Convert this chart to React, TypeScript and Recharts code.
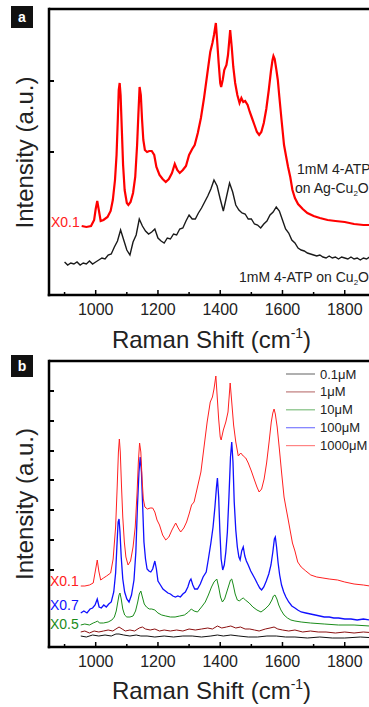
import { LineChart, Line, XAxis, YAxis, ReferenceLine, Legend } from 'recharts';

const FONT = '"Liberation Sans", Arial, sans-serif';

// shared axis ticks (Raman shift, cm-1)
const shiftTicks = [900, 1000, 1100, 1200, 1300, 1400, 1500, 1600, 1700, 1800, 1900, 2000];
const intensityTicksA = [143, 214];
const intensityTicksB = [77, 107, 137, 167, 196, 226, 256];

// ---- panel a : 1mM 4-ATP on Cu2O (black) ----
const shiftGridA = [
  900, 910, 920, 930, 940, 950, 960, 970, 980, 990, 1000,
  1010, 1020, 1030, 1040, 1050, 1060, 1070, 1080, 1090, 1100,
  1110, 1120, 1130, 1140, 1150, 1160, 1170, 1180, 1190, 1200,
  1210, 1220, 1230, 1240, 1250, 1260, 1270, 1280, 1290, 1300,
  1310, 1320, 1330, 1340, 1350, 1360, 1370, 1380, 1390, 1400,
  1410, 1420, 1430, 1440, 1450, 1460, 1470, 1480, 1490, 1500,
  1510, 1520, 1530, 1540, 1550, 1560, 1570, 1580, 1590, 1600,
  1610, 1620, 1630, 1640, 1650, 1660, 1670, 1680, 1690, 1700,
  1710, 1720, 1730, 1740, 1750, 1760, 1770, 1780, 1790, 1800,
  1810, 1820, 1830, 1840, 1850, 1860, 1870, 1880, 1890, 1900,
];
const cu2oA = [
  33, 30, 32, 31, 33, 30, 32, 31, 34, 31, 33,
  35, 37, 36, 40, 41, 48, 54, 65, 55, 45,
  40, 53, 60, 76, 69, 64, 61, 63, 66, 57,
  54, 52, 57, 56, 61, 60, 66, 67, 74, 80,
  76, 76, 82, 87, 93, 99, 106, 115, 109, 96,
  84, 98, 112, 103, 90, 85, 82, 81, 76, 76,
  71, 70, 67, 71, 74, 80, 83, 88, 84, 75,
  66, 62, 55, 52, 47, 45, 44, 42, 41, 40,
  39, 40, 38, 37, 39, 37, 38, 36, 38, 37,
  36, 38, 36, 37, 35, 37, 36, 38, 35, 36,
];

// ---- panel a : 1mM 4-ATP on Ag-Cu2O, x0.1 (red) ----
const agShiftA = [
  955, 970, 985, 995, 1000, 1005, 1010, 1016, 1025, 1038, 1048, 1055, 1062, 1067, 1071, 1074, 1077, 1080,
  1084, 1088, 1093, 1100, 1105, 1112, 1120, 1127, 1133, 1137, 1141, 1145, 1149, 1153, 1158, 1165, 1172,
  1180, 1188, 1195, 1205, 1215, 1225, 1235, 1245, 1254, 1262, 1270, 1280, 1290, 1300, 1310, 1318, 1328,
  1338, 1348, 1358, 1368, 1375, 1380, 1386, 1390, 1395, 1400, 1403, 1408, 1413, 1420, 1425, 1432, 1437,
  1442, 1448, 1455, 1462, 1468, 1474, 1480, 1488, 1495, 1502, 1510, 1518, 1525, 1532, 1540, 1548, 1556,
  1563, 1568, 1571, 1575, 1580, 1585, 1590, 1597, 1605, 1612, 1618, 1625, 1632, 1640, 1650, 1665, 1680,
  1700, 1720, 1745, 1770, 1800, 1830, 1860, 1880, 1900,
];
const agCu2oA = [
  69, 68, 69, 75, 86, 94, 85, 74, 75, 78, 84, 95, 115, 140, 175, 205, 212, 200,
  165, 130, 105, 92, 90, 93, 102, 118, 150, 180, 208, 200, 175, 155, 145, 143, 144,
  144, 140, 128, 120, 116, 113, 116, 122, 131, 125, 122, 125, 129, 140, 146, 150, 162,
  177, 197, 220, 243, 252, 260, 272, 255, 232, 212, 208, 215, 225, 230, 240, 265, 248,
  228, 212, 200, 192, 197, 193, 194, 190, 183, 177, 170, 163, 160, 163, 172, 186, 205,
  224, 235, 239, 236, 226, 215, 198, 175, 150, 138, 128, 118, 105, 97, 91, 86, 82,
  79, 77, 75, 74, 73, 71, 70, 70, 69,
];

// ---- panel b : concentration series ----
const concentrations = ['0.1\u03bcM', '1\u03bcM', '10\u03bcM', '100\u03bcM', '1000\u03bcM'];

const shift01 = [952, 970, 990, 1010, 1030, 1050, 1065, 1075, 1090, 1110, 1130, 1145, 1165, 1190, 1220, 1250, 1280, 1310, 1340, 1370, 1391, 1410, 1434, 1460, 1490, 1520, 1550, 1580, 1610, 1640, 1680, 1720, 1760, 1800, 1850, 1900];
const int01 = [11, 10, 12, 11, 12, 11, 13, 13, 12, 11, 12, 11, 11, 10, 11, 10, 11, 11, 10, 11, 12, 11, 12, 11, 10, 10, 11, 11, 10, 10, 9, 10, 9, 9, 10, 9];

const shift1 = [952, 965, 980, 995, 1010, 1025, 1040, 1055, 1065, 1075, 1085, 1095, 1110, 1125, 1140, 1150, 1160, 1175, 1190, 1205, 1220, 1240, 1260, 1280, 1300, 1320, 1340, 1360, 1375, 1391, 1405, 1420, 1434, 1450, 1465, 1480, 1495, 1510, 1525, 1545, 1560, 1573, 1585, 1600, 1620, 1640, 1665, 1690, 1715, 1740, 1770, 1800, 1830, 1860, 1900];
const int1 = [15, 16, 14, 16, 15, 16, 17, 16, 18, 20, 18, 16, 17, 16, 19, 20, 18, 17, 18, 16, 17, 16, 17, 16, 18, 17, 18, 19, 18, 21, 19, 20, 21, 19, 20, 18, 18, 17, 16, 18, 19, 20, 18, 17, 16, 17, 15, 16, 15, 15, 14, 15, 14, 15, 14];

const shift10 = [952, 965, 980, 992, 1000, 1006, 1012, 1025, 1040, 1052, 1060, 1066, 1071, 1075, 1078, 1082, 1087, 1093, 1100, 1110, 1120, 1128, 1135, 1140, 1145, 1150, 1156, 1163, 1172, 1180, 1190, 1200, 1212, 1225, 1240, 1255, 1270, 1285, 1298, 1307, 1316, 1327, 1340, 1352, 1362, 1372, 1380, 1389, 1395, 1401, 1407, 1414, 1421, 1428, 1433, 1437, 1442, 1448, 1455, 1462, 1468, 1474, 1481, 1493, 1505, 1518, 1531, 1544, 1557, 1566, 1571, 1576, 1582, 1588, 1595, 1605, 1616, 1627, 1640, 1660, 1690, 1734, 1780, 1830, 1880, 1900];
const int10 = [22, 23, 22, 24, 25, 26, 24, 24, 25, 27, 30, 36, 45, 52, 54, 48, 38, 32, 30, 30, 31, 36, 45, 53, 56, 50, 43, 40, 38, 38, 37, 34, 32, 31, 30, 30, 31, 32, 35, 38, 36, 35, 40, 45, 52, 60, 65, 68, 60, 50, 45, 48, 55, 62, 67, 68, 62, 53, 47, 46, 48, 49, 47, 44, 40, 37, 35, 38, 42, 47, 51, 52, 48, 42, 37, 32, 29, 27, 26, 25, 24, 23, 22, 22, 21, 21];

const shift100 = [952, 962, 972, 982, 990, 998, 1005, 1011, 1018, 1026, 1034, 1042, 1050, 1058, 1064, 1068, 1072, 1075, 1078, 1082, 1087, 1093, 1100, 1107, 1115, 1123, 1129, 1134, 1139, 1143, 1147, 1151, 1155, 1160, 1165, 1171, 1177, 1183, 1190, 1195, 1200, 1208, 1216, 1224, 1232, 1240, 1248, 1256, 1264, 1272, 1280, 1288, 1296, 1302, 1306, 1312, 1318, 1327, 1336, 1345, 1355, 1362, 1370, 1377, 1383, 1388, 1391, 1395, 1399, 1403, 1408, 1413, 1418, 1423, 1428, 1433, 1437, 1441, 1445, 1450, 1455, 1460, 1464, 1469, 1474, 1479, 1484, 1490, 1498, 1505, 1512, 1520, 1527, 1533, 1540, 1548, 1556, 1563, 1569, 1574, 1577, 1581, 1586, 1591, 1597, 1604, 1611, 1620, 1630, 1640, 1649, 1660, 1675, 1690, 1705, 1720, 1734, 1750, 1765, 1780, 1800, 1820, 1840, 1860, 1880, 1900];
const int100 = [34, 36, 34, 38, 39, 42, 48, 40, 39, 42, 40, 43, 45, 55, 74, 100, 125, 128, 115, 90, 68, 55, 48, 45, 52, 67, 95, 140, 175, 190, 175, 140, 105, 88, 78, 76, 75, 78, 86, 78, 66, 62, 58, 56, 54, 53, 51, 50, 51, 50, 53, 55, 60, 66, 68, 62, 58, 58, 63, 70, 75, 88, 104, 120, 140, 160, 169, 150, 115, 88, 77, 82, 95, 115, 150, 190, 205, 185, 145, 117, 100, 90, 87, 96, 100, 91, 86, 82, 76, 72, 68, 63, 59, 57, 60, 66, 73, 82, 95, 108, 110, 100, 84, 72, 62, 55, 50, 45, 41, 39, 37, 35, 34, 33, 32, 31, 30, 30, 29, 29, 28, 28, 27, 28, 27, 27];

const shift1000 = [952, 965, 980, 992, 1000, 1005, 1010, 1016, 1025, 1035, 1048, 1056, 1064, 1069, 1073, 1076, 1079, 1083, 1087, 1092, 1097, 1104, 1112, 1120, 1127, 1133, 1137, 1141, 1145, 1149, 1153, 1158, 1166, 1175, 1183, 1190, 1197, 1205, 1215, 1225, 1235, 1245, 1257, 1265, 1273, 1283, 1292, 1300, 1308, 1316, 1327, 1338, 1348, 1358, 1368, 1375, 1380, 1386, 1390, 1395, 1400, 1403, 1410, 1418, 1425, 1432, 1437, 1443, 1450, 1458, 1466, 1474, 1482, 1490, 1500, 1510, 1518, 1525, 1533, 1541, 1549, 1557, 1564, 1569, 1573, 1577, 1583, 1590, 1597, 1605, 1612, 1618, 1625, 1632, 1640, 1649, 1660, 1675, 1691, 1710, 1730, 1750, 1777, 1800, 1830, 1860, 1881, 1900];
const int1000 = [61, 61, 62, 64, 78, 87, 76, 67, 69, 71, 74, 88, 120, 160, 195, 208, 195, 160, 130, 105, 90, 82, 86, 100, 120, 155, 185, 204, 195, 168, 148, 140, 138, 139, 139, 135, 127, 122, 112, 107, 110, 117, 124, 119, 115, 119, 125, 133, 142, 145, 160, 175, 200, 225, 245, 250, 258, 271, 252, 228, 210, 207, 217, 225, 235, 264, 245, 222, 205, 191, 194, 191, 189, 184, 176, 167, 160, 155, 158, 168, 184, 205, 225, 234, 238, 233, 220, 198, 175, 150, 138, 128, 116, 104, 96, 85, 80, 76, 72, 70, 69, 68, 67, 65, 63, 62, 61, 61];

const colorsB = ['#111111', '#8b1010', '#1a8c1a', '#1010ff', '#ff2020'];

const toPoints = (xs: number[], ys: number[]) => xs.map((x, i) => ({ x, y: ys[i] }));

const panelBSeries = [
  toPoints(shift01, int01),
  toPoints(shift1, int1),
  toPoints(shift10, int10),
  toPoints(shift100, int100),
  toPoints(shift1000, int1000),
];

function ShiftTick({ x, y, payload }: any) {
  const major = payload.value % 200 === 0;
  return (
    <g>
      <line x1={x} x2={x} y1={y} y2={y - (major ? 5 : 3)} stroke="#000" strokeWidth={1.5} />
      {major && (
        <text x={x} y={y + 20} textAnchor="middle" fontSize={16} fill="#222" fontFamily={FONT}>
          {payload.value}
        </text>
      )}
    </g>
  );
}

function IntensityTick({ x, y }: any) {
  return <line x1={x} x2={x + 5} y1={y} y2={y} stroke="#000" strokeWidth={2} />;
}

function ConcLegend({ payload }: any) {
  const entries = concentrations
    .map((name) => (payload || []).find((p: any) => p.value === name))
    .filter(Boolean);
  return (
    <svg width={90} height={92} style={{ display: 'block' }}>
      {entries.map((p: any, i: number) => (
        <g key={p.value}>
          <line x1={0} x2={29} y1={9 + i * 17.9} y2={9 + i * 17.9} stroke={p.color} strokeWidth={1.2} opacity={0.55} />
          <text x={34} y={13.5 + i * 17.9} fontSize={13} fill="#222" fontFamily={FONT}>
            {p.value}
          </text>
        </g>
      ))}
    </svg>
  );
}

const axisLine = { stroke: '#000', strokeWidth: 2.5, strokeLinecap: 'square' as const };

function Sub2() {
  return (
    <>
      <tspan fontSize={8} dy={3}>2</tspan>
      <tspan dy={-3}>O</tspan>
    </>
  );
}

export default function App() {
  return (
    <div style={{ position: 'absolute', left: 0, top: 0, width: 369, height: 707, overflow: 'hidden', background: '#fff' }}>
      <div style={{ position: 'absolute', left: 0, top: 0 }}>
        <LineChart width={420} height={330} margin={{ top: 9, right: 13, bottom: 34, left: 48 }}>
          <XAxis dataKey="x" type="number" domain={[850, 2000]} ticks={shiftTicks} interval={0} allowDataOverflow
            height={1} tickSize={0} tickMargin={0} tickLine={false} axisLine={axisLine} tick={<ShiftTick />} />
          <YAxis type="number" domain={[0, 286]} ticks={intensityTicksA} interval={0} allowDataOverflow
            width={1} tickSize={0} tickMargin={0} tickLine={false} axisLine={axisLine} tick={<IntensityTick />} />
          <ReferenceLine y={286} stroke="#000" strokeWidth={2.5} />
          <Line data={toPoints(shiftGridA, cu2oA)} dataKey="y" stroke="#1a1a1a" strokeWidth={1.4} dot={false} isAnimationActive={false} />
          <Line data={toPoints(agShiftA, agCu2oA)} dataKey="y" stroke="#ff0000" strokeWidth={2.2} dot={false} isAnimationActive={false} />
        </LineChart>
      </div>
      <div style={{ position: 'absolute', left: 0, top: 340 }}>
        <LineChart width={420} height={340} margin={{ top: 21, right: 13, bottom: 32, left: 48 }}>
          <XAxis dataKey="x" type="number" domain={[850, 2000]} ticks={shiftTicks} interval={0} allowDataOverflow
            height={1} tickSize={0} tickMargin={0} tickLine={false} axisLine={axisLine} tick={<ShiftTick />} />
          <YAxis type="number" domain={[0, 286]} ticks={intensityTicksB} interval={0} allowDataOverflow
            width={1} tickSize={0} tickMargin={0} tickLine={false} axisLine={axisLine} tick={<IntensityTick />} />
          <ReferenceLine y={286} stroke="#000" strokeWidth={2.5} />
          {panelBSeries.map((pts, i) => (
            <Line key={concentrations[i]} name={concentrations[i]} data={pts} dataKey="y" stroke={colorsB[i]}
              strokeWidth={i === 3 ? 1.3 : 1} dot={false} isAnimationActive={false} />
          ))}
          <Legend layout="vertical" align="center" verticalAlign="middle" content={<ConcLegend />}
            wrapperStyle={{ left: 286, top: 25, width: 90 }} />
        </LineChart>
      </div>
      <svg width={369} height={707} style={{ position: 'absolute', left: 0, top: 0, pointerEvents: 'none' }} fontFamily={FONT}>
        <rect x={11} y={6} width={22} height={22} fill="#111" />
        <text x={22} y={22} textAnchor="middle" fontSize={14} fontWeight="bold" fill="#fff">a</text>
        <rect x={11} y={355} width={22} height={22} fill="#111" />
        <text x={22} y={371} textAnchor="middle" fontSize={14} fontWeight="bold" fill="#fff">b</text>

        <text transform="translate(33,152.5) rotate(-90)" textAnchor="middle" fontSize={24} fill="#222">Intensity (a.u.)</text>
        <text transform="translate(33,504) rotate(-90)" textAnchor="middle" fontSize={24} fill="#222">Intensity (a.u.)</text>

        <text x={211.5} y={348} textAnchor="middle" fontSize={24} fill="#222">
          Raman Shift (cm<tspan fontSize={14} dy={-10}>-1</tspan><tspan dy={10}>)</tspan>
        </text>
        <text x={211.5} y={699} textAnchor="middle" fontSize={24} fill="#222">
          Raman Shift (cm<tspan fontSize={14} dy={-10}>-1</tspan><tspan dy={10}>)</tspan>
        </text>

        <text x={51} y={227} fontSize={14} fill="#ff2020">X0.1</text>
        <text x={297} y={174} fontSize={14} fill="#222">1mM 4-ATP</text>
        <text x={295} y={193} fontSize={14} fill="#222">on Ag-Cu<Sub2 /></text>
        <text x={239} y={282} fontSize={14} fill="#222">1mM 4-ATP on Cu<Sub2 /></text>

        <text x={50} y={586} fontSize={14} fill="#ff2020">X0.1</text>
        <text x={50} y={610} fontSize={14} fill="#1010ff">X0.7</text>
        <text x={50} y={628.5} fontSize={14} fill="#1a8c1a">X0.5</text>
      </svg>
    </div>
  );
}
